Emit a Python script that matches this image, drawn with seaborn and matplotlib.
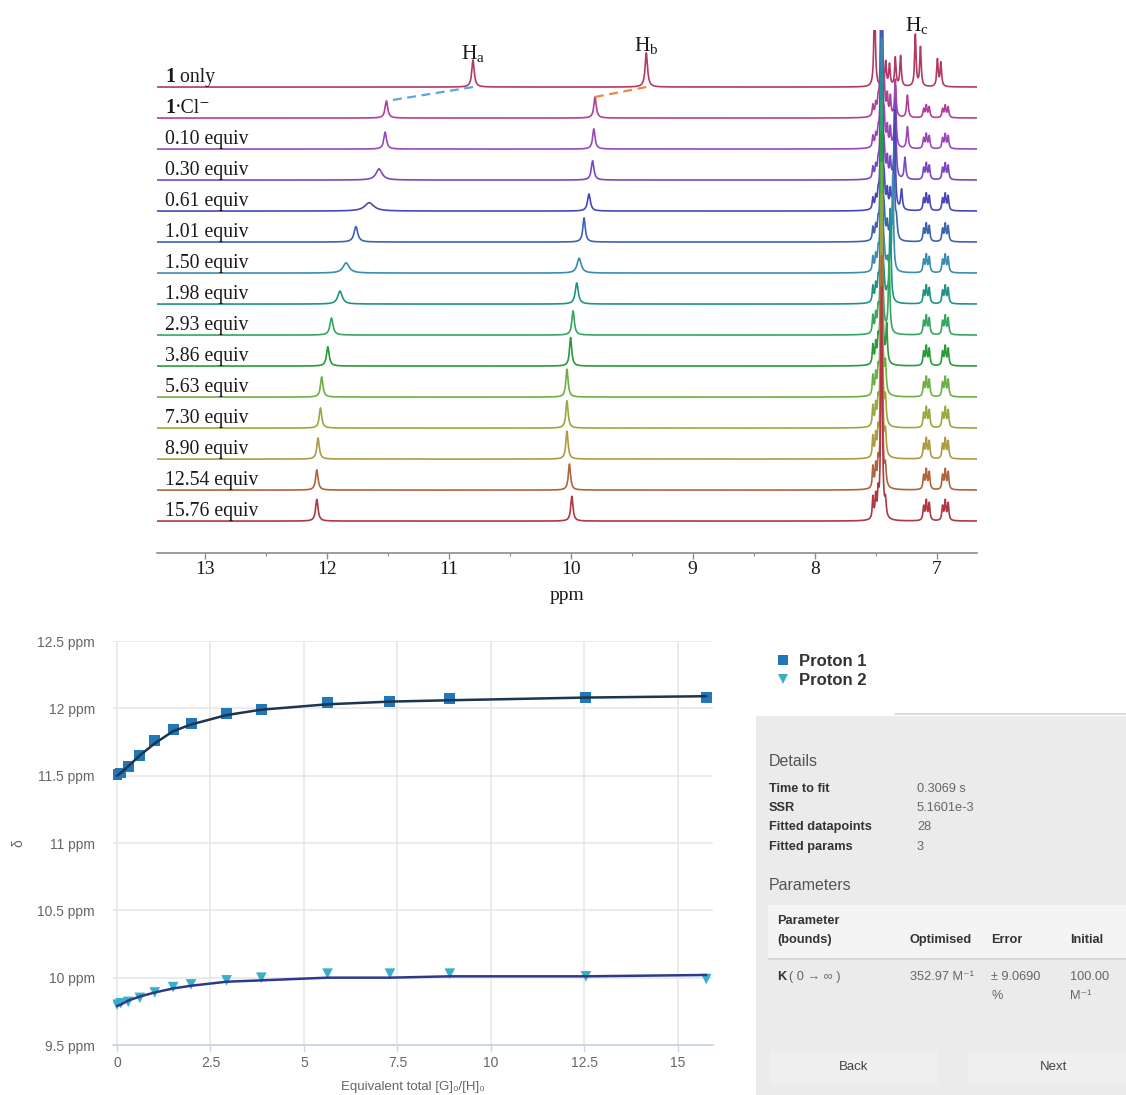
import numpy as np
import pandas as pd
import matplotlib
matplotlib.use("Agg")
import matplotlib.pyplot as plt
import matplotlib.transforms as mtransforms
from matplotlib.lines import Line2D
from matplotlib.patches import Rectangle
from matplotlib.ticker import FixedLocator, FuncFormatter
import seaborn as sns

# ---------------------------------------------------------------- data
# titration points: equivalents of chloride added ([G]0/[H]0)
equiv = [0.0, 0.10, 0.30, 0.61, 1.01, 1.50, 1.98, 2.93, 3.86, 5.63, 7.30, 8.90, 12.54, 15.76]

# observed shifts (ppm) of the two NH protons
proton1 = [11.51, 11.52, 11.57, 11.65, 11.76, 11.84, 11.89, 11.96, 11.99, 12.04, 12.05, 12.07, 12.08, 12.08]
proton2 = [9.80, 9.81, 9.82, 9.85, 9.89, 9.93, 9.95, 9.98, 10.00, 10.03, 10.03, 10.03, 10.01, 9.99]

# 1:1 binding-model fit evaluated at each titration point
fit1 = [11.50, 11.52, 11.57, 11.65, 11.74, 11.83, 11.88, 11.95, 11.99, 12.03, 12.05, 12.06, 12.08, 12.09]
fit2 = [9.79, 9.80, 9.83, 9.86, 9.89, 9.92, 9.94, 9.97, 9.98, 10.00, 10.00, 10.01, 10.01, 10.02]

# free host (1 only)
host_ha, host_hb = 10.80, 9.38
host_aromatic_ppm = [7.509, 7.418, 7.387, 7.339, 7.296, 7.175, 7.133, 6.994, 6.966]
host_aromatic_h = [3.0, 0.80, 0.70, 0.92, 0.98, 1.67, 1.26, 0.87, 0.76]

# NH peak heights (in trace spacings) and half widths (ppm) for titration traces
ha_height = [0.55, 0.55, 0.36, 0.27, 0.50, 0.33, 0.42, 0.55, 0.62, 0.65, 0.65, 0.68, 0.65, 0.70]
ha_width = [0.013, 0.013, 0.030, 0.045, 0.018, 0.030, 0.022, 0.015, 0.013, 0.012, 0.012, 0.012, 0.012, 0.012]
hb_height = [0.68, 0.65, 0.62, 0.55, 0.78, 0.48, 0.68, 0.78, 0.92, 0.90, 0.88, 0.90, 0.84, 0.80]
hb_width = [0.012, 0.012, 0.013, 0.014, 0.012, 0.020, 0.015, 0.012, 0.011, 0.011, 0.011, 0.011, 0.011, 0.011]

# aromatic region of titration traces
main_ppm = 7.452
main_height = 7.5
p2_ppm = [7.339, 7.339, 7.339, 7.345, 7.35, 7.36, 7.38, 7.39, 7.41, 7.42, 7.42, 7.42, 7.42, 7.42]
p2_height = [1.2, 2.0, 2.6, 3.2, 3.0, 2.8, 2.6, 2.4, 1.2, 0.9, 0.8, 0.7, 0.6, 0.5]
hc_ppm = [7.240, 7.240, 7.260, 7.288, 7.33, 7.36, 7.38, 7.39, 7.41, 7.42, 7.42, 7.42, 7.42, 7.42]
hc_height = [0.72, 0.70, 0.70, 0.65, 0.60, 0.30, 0.20, 0.10, 0.0, 0.0, 0.0, 0.0, 0.0, 0.0]
mid_ppm = [7.43, 7.405, 7.38]
mid_height = [0.62, 0.60, 0.60, 0.55, 0.50, 0.30, 0.20, 0.0, 0.0, 0.0, 0.0, 0.0, 0.0, 0.0]
left_ppm = [7.523, 7.500, 7.480]
left_height = [0.35, 0.35, 0.35, 0.35, 0.40, 0.45, 0.50, 0.55, 0.60, 0.62, 0.64, 0.66, 0.68, 0.70]
mult_centres = [7.085, 6.930]
mult_offsets = [-0.024, 0.0, 0.022]
mult_rel = [0.88, 1.0, 0.72]
mult_height = [0.38, 0.45, 0.50, 0.52, 0.55, 0.55, 0.55, 0.58, 0.60, 0.60, 0.62, 0.62, 0.62, 0.62]

trace_colors = ['#b03a62', '#b0409a', '#9a48b8', '#7a48c0', '#4848b8', '#3c64b0', '#3a8cb0',
                '#1f9483', '#36a660', '#2a9a3a', '#6cb044', '#98aa3c', '#ae9a42', '#b0643c', '#b03840']

# ---------------------------------------------------------------- style
sns.set_theme(style="white")
plt.rcParams["font.family"] = ["Liberation Sans", "DejaVu Sans"]
plt.rcParams["mathtext.fontset"] = "custom"
plt.rcParams["mathtext.rm"] = "Liberation Serif"
plt.rcParams["mathtext.it"] = "Liberation Serif:italic"
plt.rcParams["mathtext.bf"] = "Liberation Serif:bold"

W, H = 1126, 1095
fig = plt.figure(figsize=(W / 100, H / 100), dpi=100)
fig.patch.set_facecolor("white")


def fx(px):
    return px / W


def fy(py):
    return 1 - py / H


SERIF = ["Liberation Serif", "DejaVu Serif"]
LABEL_SIZE = 14.2

# ---------------------------------------------------------------- stacked spectra
ax1 = fig.add_axes([fx(157), fy(553), fx(977) - fx(157), fy(30) - fy(553)])
ppm = np.linspace(6.6, 13.45, 9000)


def lorentz(x0, h, w):
    return h / (1.0 + ((ppm - x0) / w) ** 2)


traces = []
# free host trace
y0 = lorentz(host_ha, 0.87, 0.012) + lorentz(host_hb, 1.10, 0.012)
for p, h in zip(host_aromatic_ppm, host_aromatic_h):
    y0 = y0 + lorentz(p, h, 0.007)
traces.append(y0)

for i in range(len(equiv)):
    y = lorentz(proton1[i], ha_height[i], ha_width[i]) + lorentz(proton2[i], hb_height[i], hb_width[i])
    y += lorentz(main_ppm, main_height, 0.007)
    y += lorentz(p2_ppm[i], p2_height[i], 0.007)
    if hc_height[i] > 0:
        y += lorentz(hc_ppm[i], hc_height[i], 0.008)
    for p in mid_ppm:
        if mid_height[i] > 0:
            y += lorentz(p, mid_height[i], 0.006)
    for p in left_ppm:
        y += lorentz(p, left_height[i], 0.006)
    for c in mult_centres:
        for off, rel in zip(mult_offsets, mult_rel):
            y += lorentz(c + off, mult_height[i] * rel, 0.0068)
    traces.append(y)

for k, y in enumerate(traces):
    df = pd.DataFrame({"ppm": ppm, "y": y - k})
    sns.lineplot(data=df, x="ppm", y="y", sort=False, estimator=None, color=trace_colors[k],
                 lw=1.2, ax=ax1, zorder=3 + k)

# dashed guides for the NH shifts on binding
ax1.plot([host_ha, proton1[0]], [0.0, -1 + ha_height[0]], ls=(0, (4, 2.5)), color="#5aa6e0", lw=1.6, zorder=30)
ax1.plot([host_hb, proton2[0]], [0.0, -1 + hb_height[0]], ls=(0, (4, 2.5)), color="#f0883a", lw=1.6, zorder=30)

ax1.set_xlim(13.39, 6.67)
ax1.set_ylim(-15.03, 1.84)

tr = mtransforms.blended_transform_factory(fig.transFigure, ax1.transData)
# compound label rows: bold "1" followed by plain text
compound_tails = [" only", "·Cl⁻"]
for k, tail in enumerate(compound_tails):
    ax1.text(fx(165), -k + 0.17, "1", transform=tr, ha="left", va="baseline",
             fontsize=LABEL_SIZE, family=SERIF, weight="bold", color="#1a1a1a", zorder=40)
    ax1.annotate(tail, xy=(fx(165), -k + 0.17), xycoords=tr, xytext=(LABEL_SIZE * 0.5, 0),
                 textcoords="offset points", ha="left", va="baseline",
                 fontsize=LABEL_SIZE, family=SERIF, color="#1a1a1a", zorder=40)
for k, e in enumerate(equiv[1:], start=2):
    ax1.text(fx(165), -k + 0.17, f"{e:.2f} equiv", transform=tr, ha="left", va="baseline",
             fontsize=LABEL_SIZE, family=SERIF, color="#1a1a1a", zorder=40)

ax1.text(host_ha, 0.90, r"H$_{\mathrm{a}}$", ha="center", va="baseline", fontsize=15.5, family=SERIF,
         color="#1a1a1a", clip_on=False)
ax1.text(host_hb, 1.16, r"H$_{\mathrm{b}}$", ha="center", va="baseline", fontsize=15.5, family=SERIF,
         color="#1a1a1a", clip_on=False)
ax1.text(7.16, 1.80, r"H$_{\mathrm{c}}$", ha="center", va="baseline", fontsize=15.5, family=SERIF,
         color="#1a1a1a", clip_on=False)

for s in ["left", "right", "top"]:
    ax1.spines[s].set_visible(False)
ax1.spines["bottom"].set_color("#8c8c8c")
ax1.spines["bottom"].set_linewidth(1.2)
ax1.set_yticks([])
ax1.xaxis.set_major_locator(FixedLocator([13, 12, 11, 10, 9, 8, 7]))
ax1.xaxis.set_minor_locator(FixedLocator([13.5, 12.5, 11.5, 10.5, 9.5, 8.5, 7.5]))
ax1.xaxis.set_major_formatter(FuncFormatter(lambda v, p: f"{v:.0f}"))
ax1.tick_params(axis="x", which="major", direction="out", length=4, width=1, color="#8c8c8c",
                labelsize=14, labelcolor="#1a1a1a", pad=2, bottom=True)
ax1.tick_params(axis="x", which="minor", direction="out", length=2.5, width=0.8, color="#8c8c8c", bottom=True)
for t in ax1.get_xticklabels():
    t.set_family(SERIF)
ax1.set_xlabel("ppm", fontsize=14, family=SERIF, color="#1a1a1a", labelpad=6)
ax1.set_ylabel("")

# ---------------------------------------------------------------- binding isotherm
ax2 = fig.add_axes([fx(113), fy(1045), fx(713) - fx(113), fy(641) - fy(1045)])
p1_color, p2_color = "#2277b8", "#3aafca"
sns.scatterplot(x=equiv, y=proton1, marker="s", s=62, color=p1_color, edgecolor="none", ax=ax2, zorder=3)
sns.scatterplot(x=equiv, y=proton2, marker="v", s=58, color=p2_color, edgecolor="none", ax=ax2, zorder=3)
sns.lineplot(x=equiv, y=fit1, color="#1c3550", lw=1.8, ax=ax2, zorder=4)
sns.lineplot(x=equiv, y=fit2, color="#2d3a8c", lw=1.8, ax=ax2, zorder=4)

ax2.set_xlim(-0.107, 15.94)
ax2.set_ylim(9.5, 12.5)
ax2.set_xticks([0, 2.5, 5, 7.5, 10, 12.5, 15])
ax2.set_yticks([9.5, 10, 10.5, 11, 11.5, 12, 12.5])
ax2.xaxis.set_major_formatter(FuncFormatter(lambda v, p: f"{v:g}"))
ax2.yaxis.set_major_formatter(FuncFormatter(lambda v, p: f"{v:g} ppm"))
ax2.grid(True, color="#e6e6e6", lw=1.1)
ax2.set_axisbelow(True)
ax2.axhline(9.5, color="#ccd6eb", lw=1.4, zorder=2, clip_on=False)
for s in ax2.spines.values():
    s.set_visible(False)
ax2.tick_params(axis="y", length=0, pad=13, labelsize=10, labelcolor="#666666")
ax2.tick_params(axis="x", length=5, width=1, color="#ccd6eb", pad=3, labelsize=10,
                labelcolor="#666666", bottom=True)
ax2.set_xlabel("Equivalent total [G]₀/[H]₀", fontsize=9.5, color="#666666", labelpad=8)
ax2.set_ylabel("")
fig.text(fx(18), fy(843), "δ", rotation=90, ha="center", va="center", fontsize=10, color="#666666")

# legend
handles = [Line2D([], [], ls="none", marker="s", markersize=7.5, color=p1_color, markeredgewidth=0),
           Line2D([], [], ls="none", marker="v", markersize=7.5, color=p2_color, markeredgewidth=0)]
fig.legend(handles, ["Proton 1", "Proton 2"], loc="upper left", bbox_to_anchor=(fx(775), fy(654)),
           bbox_transform=fig.transFigure, frameon=False, handlelength=0.9, handletextpad=0.55,
           labelspacing=0.22, borderpad=0, borderaxespad=0,
           prop={"weight": "bold", "size": 12}, labelcolor="#333333")

# ---------------------------------------------------------------- fit summary panel
def frect(x0, y0, x1, y1, **kw):
    fig.patches.append(Rectangle((fx(x0), fy(y1)), fx(x1) - fx(x0), fy(y0) - fy(y1),
                                 transform=fig.transFigure, **kw))


frect(756, 716, 1126, 1095, facecolor="#ebebeb", edgecolor="none", zorder=0)
fig.add_artist(Line2D([fx(895), fx(1126)], [fy(713.5), fy(713.5)], color="#d6d6d6", lw=1.2,
                      transform=fig.transFigure))
frect(768, 905, 1126, 958, facecolor="#f4f4f4", edgecolor="none", zorder=0)
fig.add_artist(Line2D([fx(768), fx(1126)], [fy(958.5), fy(958.5)], color="#d5d5d5", lw=1.2,
                      transform=fig.transFigure))
frect(770, 1051, 938, 1084, facecolor="#efefef", edgecolor="none", zorder=0)
frect(968, 1051, 1126, 1084, facecolor="#efefef", edgecolor="none", zorder=0)


def ptext(x, y, s, **kw):
    kw.setdefault("ha", "left")
    kw.setdefault("va", "center")
    fig.text(fx(x), fy(y), s, **kw)


SMALL = 9.2
ptext(769, 761, "Details", fontsize=11.5, color="#555555")
detail_keys = ["Time to fit", "SSR", "Fitted datapoints", "Fitted params"]
detail_vals = ["0.3069 s", "5.1601e-3", "28", "3"]
for j, (k, v) in enumerate(zip(detail_keys, detail_vals)):
    yy = 789 + 19.2 * j
    ptext(769, yy, k, fontsize=SMALL, weight="bold", color="#333333")
    ptext(917, yy, v, fontsize=SMALL, color="#666666")

ptext(769, 886, "Parameters", fontsize=11.5, color="#555555")
ptext(777, 921, "Parameter", fontsize=SMALL, weight="bold", color="#333333")
ptext(777, 940, "(bounds)", fontsize=SMALL, weight="bold", color="#333333")
ptext(910, 940, "Optimised", fontsize=SMALL, weight="bold", color="#333333")
ptext(991, 940, "Error", fontsize=SMALL, weight="bold", color="#333333")
ptext(1070, 940, "Initial", fontsize=SMALL, weight="bold", color="#333333")

ptext(777, 977, "K", fontsize=SMALL, weight="bold", color="#333333")
ptext(789, 977, "( 0 → ∞ )", fontsize=SMALL, color="#666666")
ptext(910, 977, "352.97 M⁻¹", fontsize=SMALL, color="#666666")
ptext(991, 977, "± 9.0690", fontsize=SMALL, color="#666666")
ptext(991, 996, "%", fontsize=SMALL, color="#666666")
ptext(1070, 977, "100.00", fontsize=SMALL, color="#666666")
ptext(1070, 996, "M⁻¹", fontsize=SMALL, color="#666666")

ptext(854, 1067, "Back", ha="center", fontsize=9.5, color="#444444")
ptext(1054, 1067, "Next", ha="center", fontsize=9.5, color="#444444")

fig.savefig("out.png", dpi=100, facecolor="white")
